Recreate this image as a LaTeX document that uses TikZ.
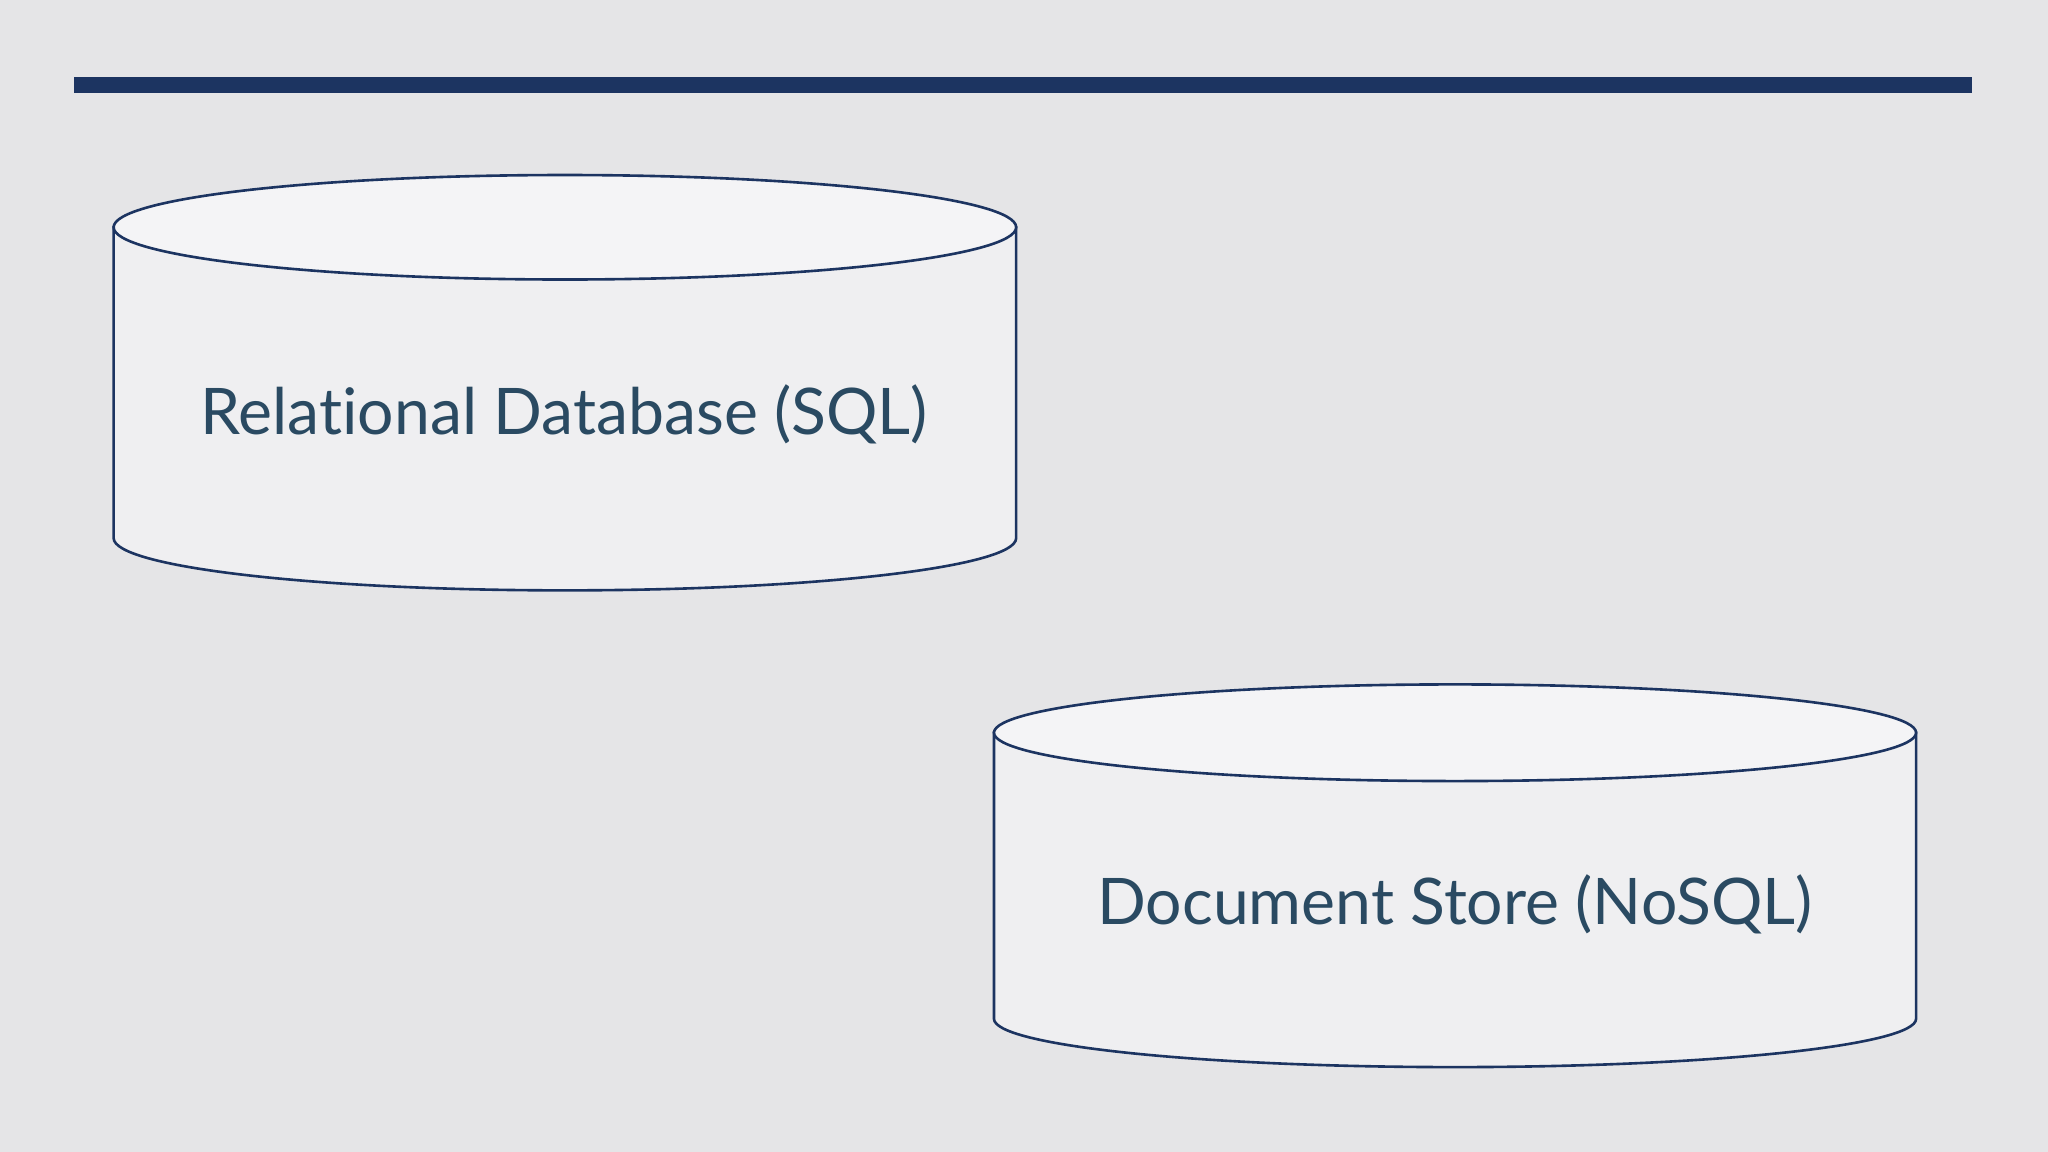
\documentclass[tikz,border=0pt]{standalone}
\usepackage{fontspec}
\setmainfont{Lato}[Ligatures=NoCommon]
\definecolor{bg}{HTML}{E5E5E7}
\definecolor{navy}{HTML}{1C3461}
\definecolor{side}{HTML}{EFEFF1}
\definecolor{topc}{HTML}{F4F4F6}
\definecolor{txt}{HTML}{2A4A62}
\tikzset{cyl/.style={draw=navy,line width=1pt,fill=side},
  topface/.style={draw=navy,line width=1pt,fill=topc},
  lbl/.style={text=txt,font=\fontsize{24.6}{28}\selectfont}}
\begin{document}
\begin{tikzpicture}[x=0.5pt,y=-0.5pt]
\useasboundingbox[fill=bg] (0,0) rectangle (1568,882);
\fill[navy] (57,59) rectangle (1510,71);
% cylinder 1
\path[cyl] (87,174) -- (87,412) arc[start angle=180,end angle=360,x radius=345.5,y radius=-40] -- (778,174) -- cycle;
\path[topface] (432.5,174) ellipse[x radius=345.5,y radius=40];
\node[lbl] (sql) at (432,317) {Relational Database (SQL)};
% cylinder 2
\path[cyl] (761,561) -- (761,780) arc[start angle=180,end angle=360,x radius=353,y radius=-37] -- (1467,561) -- cycle;
\path[topface] (1114,561) ellipse[x radius=353,y radius=37];
\node[lbl] (nosql) at (1114,692) {Document Store (NoSQL)};
\end{tikzpicture}
\end{document}
